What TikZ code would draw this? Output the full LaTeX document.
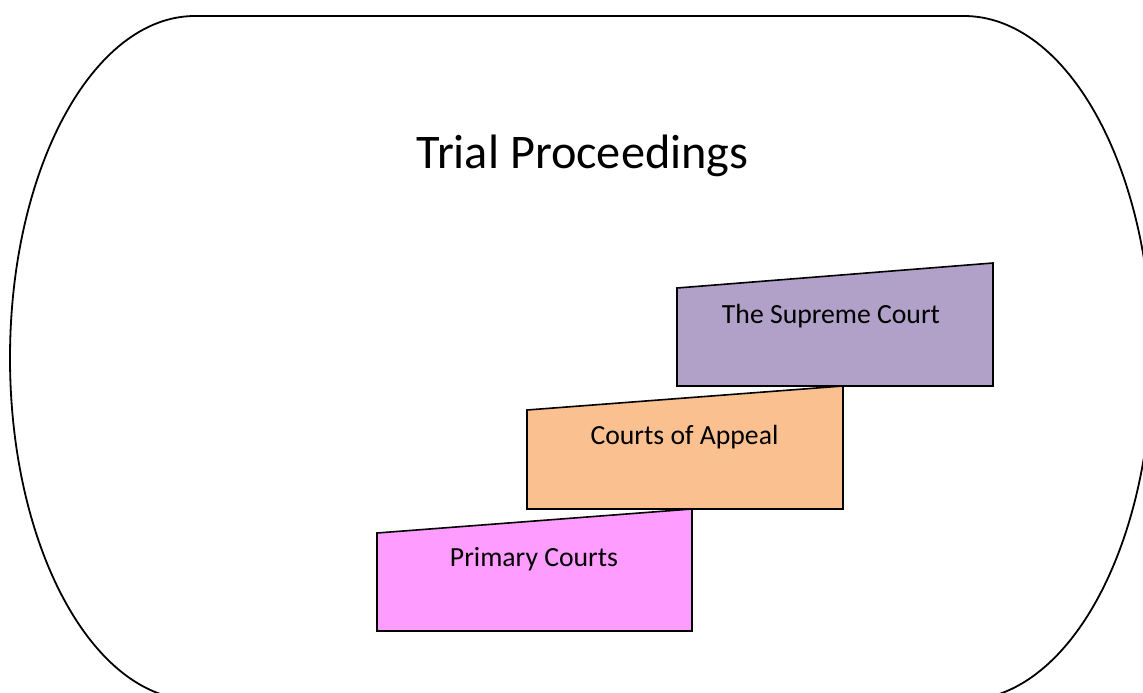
\documentclass[tikz,border=0pt]{standalone}
\usepackage{fontspec}
\setmainfont{Carlito}
\begin{document}
\begin{tikzpicture}[x=1pt,y=-1pt,
  court/.style={draw=black,line width=1.6pt,line join=miter},
  courtlabel/.style={anchor=base,inner sep=0pt,font=\fontsize{27.7}{33}\selectfont},
  outline/.style={draw=black,line width=1.8pt}]
  \useasboundingbox (0,0) rectangle (1143,693);
  \begin{scope}
    \clip (0,0) rectangle (1143,693);
    % outer frame: flat top with half-elliptical ends
    \draw[outline] (195,16) -- (964,16)
      arc[start angle=-90,end angle=90,x radius=188,y radius=342]
      -- (195,700)
      arc[start angle=90,end angle=270,x radius=185,y radius=342]
      -- cycle;
  \end{scope}
  \node[anchor=base,inner sep=0pt,font=\fontsize{48.3}{58}\selectfont] (title) at (582.5,168) {Trial Proceedings};
  % staircase of courts
  \path[court,fill={rgb,255:red,255;green,156;blue,255}]
    (377,533) -- (692,509) -- (692,631) -- (377,631) -- cycle;
  \path[court,fill={rgb,255:red,250;green,192;blue,144}]
    (527,410) -- (843,386) -- (843,509) -- (527,509) -- cycle;
  \path[court,fill={rgb,255:red,177;green,160;blue,199}]
    (677,288) -- (993,263) -- (993,386) -- (677,386) -- cycle;
  \node[courtlabel] (supreme) at (831,323) {The Supreme Court};
  \node[courtlabel] (appeal) at (684.5,444) {Courts of Appeal};
  \node[courtlabel] (primary) at (534,566) {Primary Courts};
\end{tikzpicture}
\end{document}
